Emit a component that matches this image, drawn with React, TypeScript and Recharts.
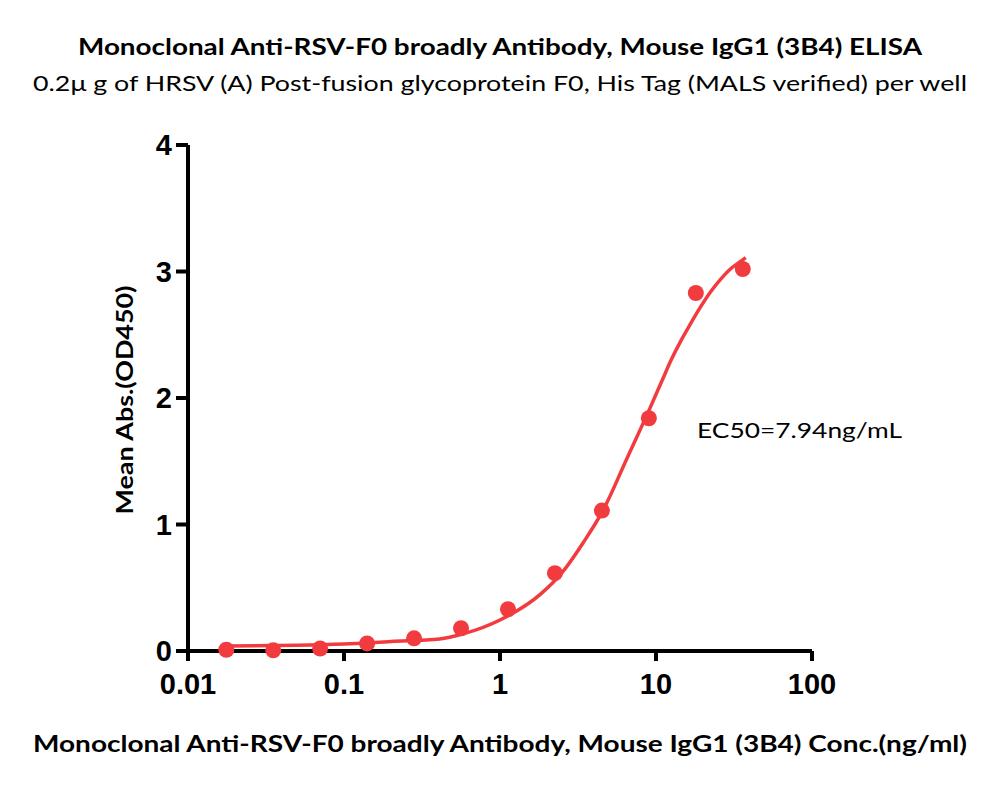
import React from "react";
import {
  ComposedChart,
  Line,
  Scatter,
  XAxis,
  YAxis,
} from "recharts";

// measured points (ng/ml, OD450)
const concentrations = [
  0.0176, 0.0352, 0.0703, 0.1406, 0.2813, 0.5625, 1.125, 2.25, 4.5, 9, 18, 36,
];
const meanAbs = [0.01, 0.005, 0.02, 0.06, 0.1, 0.18, 0.33, 0.615, 1.11, 1.84, 2.83, 3.02];

// fitted curve
const fitConc = [
  0.0176, 0.05, 0.1, 0.2, 0.41, 0.58, 1.0, 1.82, 2.5, 3.43, 4.61, 6.5, 9, 10.96, 12.5, 14.4,
  16.7, 19.3, 22.4, 26, 30, 34.9, 37.6,
];
const fitAbs = [
  0.04, 0.045, 0.055, 0.075, 0.095, 0.135, 0.245, 0.45, 0.62, 0.86, 1.12, 1.52, 1.9, 2.14,
  2.3, 2.45, 2.59, 2.72, 2.84, 2.94, 3.02, 3.08, 3.11,
];

const xTicks = [0.01, 0.1, 1, 10, 100];
const yTicks = [0, 1, 2, 3, 4];

const TITLE = "Monoclonal Anti-RSV-F0 broadly Antibody, Mouse IgG1 (3B4) ELISA";
const SUBTITLE =
  "0.2\u03bc g of HRSV (A) Post-fusion glycoprotein F0, His Tag (MALS verified) per well";
const X_LABEL = "Monoclonal Anti-RSV-F0 broadly Antibody, Mouse IgG1 (3B4) Conc.(ng/ml)";
const Y_LABEL = "Mean Abs.(OD450)";
const EC50_TEXT = "EC50=7.94ng/mL";

const RED = "#F23B3F";
const TEXT_FONT = "Lato, 'Open Sans', sans-serif";
const TICK_FONT = "'Liberation Sans', Arial, sans-serif";

const points = concentrations.map((x, i) => ({ x, y: meanAbs[i] }));
const fit = fitConc.map((x, i) => ({ x, y: fitAbs[i] }));

const tickStyle = {
  fontFamily: TICK_FONT,
  fontSize: 29,
  fontWeight: 700,
  fill: "#000",
};

export default function App() {
  return (
    <div style={{ position: "absolute", left: 0, top: 0, width: 1000, height: 789, background: "#fff" }}>
      <ComposedChart
        width={1000}
        height={789}
        margin={{ top: 145, right: 188, bottom: 78, left: 118 }}
      >
        <XAxis
          dataKey="x"
          type="number"
          scale="log"
          domain={[0.01, 100]}
          ticks={xTicks}
          allowDataOverflow
          tickFormatter={(v: number) => String(v)}
          height={60}
          axisLine={{ stroke: "#000", strokeWidth: 4 }}
          tickLine={{ stroke: "#000", strokeWidth: 4 }}
          tickSize={10}
          tickMargin={12}
          tick={tickStyle}
        />
        <YAxis
          type="number"
          domain={[0, 4]}
          ticks={yTicks}
          width={70}
          axisLine={{ stroke: "#000", strokeWidth: 4 }}
          tickLine={{ stroke: "#000", strokeWidth: 4 }}
          tickSize={12}
          tickMargin={4}
          tick={tickStyle}
        />
        <Line
          data={fit}
          dataKey="y"
          type="monotone"
          stroke={RED}
          strokeWidth={3.5}
          dot={false}
          activeDot={false}
          isAnimationActive={false}
        />
        <Scatter
          data={points}
          dataKey="y"
          fill={RED}
          isAnimationActive={false}
          shape={(p: any) => <circle cx={p.cx} cy={p.cy} r={8} fill={RED} />}
        />
      </ComposedChart>

      <svg
        width={1000}
        height={789}
        style={{ position: "absolute", left: 0, top: 0, pointerEvents: "none" }}
      >
        <text
          x={500}
          y={55}
          textAnchor="middle"
          fontFamily={TEXT_FONT}
          fontWeight={700}
          fontSize={22}
          textLength={844}
          lengthAdjust="spacingAndGlyphs"
        >
          {TITLE}
        </text>
        <text
          x={500}
          y={91}
          textAnchor="middle"
          fontFamily={TEXT_FONT}
          fontSize={22}
          textLength={934}
          lengthAdjust="spacingAndGlyphs"
        >
          {SUBTITLE}
        </text>
        <text
          x={500}
          y={752}
          textAnchor="middle"
          fontFamily={TEXT_FONT}
          fontWeight={700}
          fontSize={22}
          textLength={934}
          lengthAdjust="spacingAndGlyphs"
        >
          {X_LABEL}
        </text>
        <text
          x={133}
          y={400}
          transform="rotate(-90 133 400)"
          textAnchor="middle"
          fontFamily={TEXT_FONT}
          fontWeight={700}
          fontSize={23}
          textLength={229}
          lengthAdjust="spacingAndGlyphs"
        >
          {Y_LABEL}
        </text>
        <text
          x={697}
          y={438}
          fontFamily={TEXT_FONT}
          fontSize={22}
          textLength={205}
          lengthAdjust="spacingAndGlyphs"
        >
          {EC50_TEXT}
        </text>
      </svg>
    </div>
  );
}
